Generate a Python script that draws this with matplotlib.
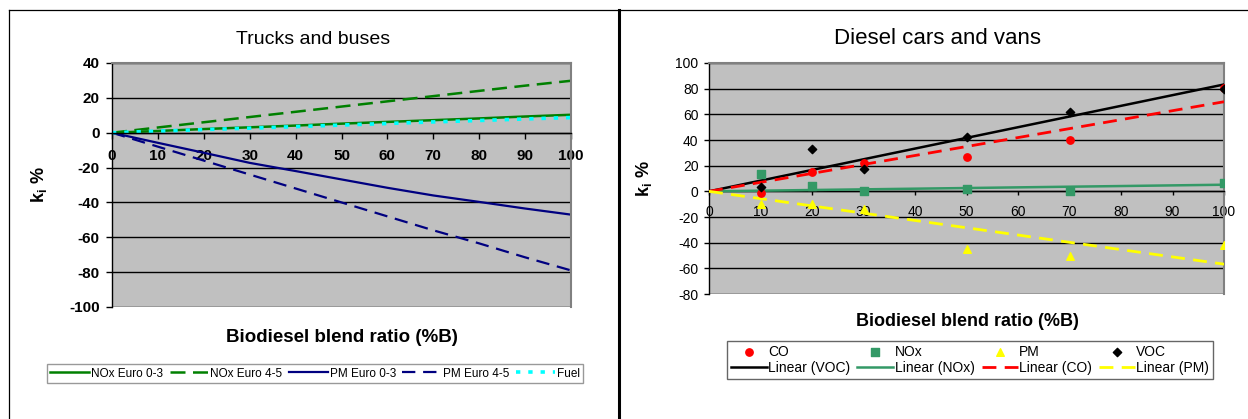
import numpy as np
import matplotlib
matplotlib.use("Agg")
import matplotlib.pyplot as plt
from matplotlib.lines import Line2D

plt.rcParams['font.family'] = ['Liberation Sans', 'DejaVu Sans']
plt.rcParams['mathtext.fontset'] = 'custom'
plt.rcParams['mathtext.rm'] = 'Liberation Sans'
plt.rcParams['mathtext.bf'] = 'Liberation Sans:bold'
plt.rcParams['axes.unicode_minus'] = False

# ---- left chart: trucks and buses ----
blend = [0, 10, 20, 30, 40, 50, 60, 70, 80, 90, 100]
nox_euro03 = [0, 1.0, 2.1, 3.1, 4.1, 5.2, 6.2, 7.2, 8.2, 9.3, 10.3]
nox_euro45 = [0, 3.0, 6.0, 9.0, 12.0, 15.0, 18.0, 21.0, 24.0, 27.0, 29.8]
pm_euro03 = [0, -5.8, -11.5, -17.3, -22.0, -26.8, -31.6, -36.0, -39.7, -43.5, -47.0]
pm_euro45 = [0, -8.0, -16.0, -24.0, -32.0, -40.0, -48.0, -56.0, -63.5, -71.5, -79.0]
fuel = [0, 0.9, 1.8, 2.6, 3.5, 4.4, 5.3, 6.2, 7.0, 7.9, 8.7]
left_labels = ["NOx Euro 0-3", "NOx Euro 4-5", "PM Euro 0-3", "PM Euro 4-5", "Fuel"]

# ---- right chart: diesel cars and vans ----
meas_x = [10, 20, 30, 50, 70, 100]
co = [-1, 15, 22, 26.5, 40, 80.5]
nox = [13.5, 3.8, 0.6, 1.8, 0, 6.5]
pm = [-10, -10, -14, -45, -50, -42]
voc = [3, 33, 17.5, 42, 62, 80]

W, H = 1248, 419
fig = plt.figure(figsize=(W / 100, H / 100), dpi=100)


def px_axes(x0, y0, x1, y1):
    return fig.add_axes([x0 / W, 1 - y1 / H, (x1 - x0) / W, (y1 - y0) / H])


def style_axes(ax, ylim, yticks, bold, tick_size, xpad, ypad, ytick_len, xtick_len):
    ax.set_facecolor('#C0C0C0')
    ax.set_xlim(0, 100)
    ax.set_ylim(*ylim)
    ax.set_yticks(yticks)
    ax.set_xticks(range(0, 101, 10))
    ax.spines['bottom'].set_position(('data', 0))
    ax.spines['bottom'].set_color('black')
    ax.spines['left'].set_color('black')
    ax.spines['top'].set_color('#808080')
    ax.spines['right'].set_color('#808080')
    for s in ax.spines.values():
        s.set_linewidth(1.0)
    ax.spines['top'].set_linewidth(1.5)
    ax.spines['right'].set_linewidth(1.5)
    ax.set_axisbelow(True)
    ax.yaxis.grid(True, color='black', linewidth=1.0)
    weight = 'bold' if bold else 'normal'
    ax.tick_params(axis='y', direction='out', length=ytick_len, width=1,
                   pad=ypad, labelsize=tick_size)
    ax.tick_params(axis='x', direction='out', length=xtick_len, width=1,
                   pad=xpad, labelsize=tick_size)
    for lab in ax.get_xticklabels() + ax.get_yticklabels():
        lab.set_fontweight(weight)


# left chart
ax1 = px_axes(112, 63, 571, 307)
ax1.plot(blend, nox_euro03, color='#008000', lw=1.8, label=left_labels[0])
ax1.plot(blend, nox_euro45, color='#008000', lw=1.8, dashes=(6, 3), label=left_labels[1])
ax1.plot(blend, pm_euro03, color='#000080', lw=1.6, label=left_labels[2])
ax1.plot(blend, pm_euro45, color='#000080', lw=1.6, dashes=(6, 3.5), label=left_labels[3])
ax1.plot(blend, fuel, color='#00FFFF', lw=2.6, dashes=(1.2, 2.2), label=left_labels[4])
style_axes(ax1, (-100, 40), range(-100, 41, 20), True, 11, 8, 5, 4, 4)
ax1.set_ylabel(r'$\mathbf{k_i}$ %', fontsize=13, fontweight='bold')
ax1.yaxis.set_label_coords(-0.137, 0.5)
ax1.legend(loc='center', bbox_to_anchor=(315 / W, 1 - 373.5 / H),
           bbox_transform=fig.transFigure, ncol=5, fontsize=8.5,
           frameon=True, fancybox=False, edgecolor='#808080',
           handlelength=3.3, handletextpad=0.15, columnspacing=0.55,
           borderpad=0.3, borderaxespad=0)
fig.text(313 / W, 1 - 40 / H, "Trucks and buses", ha='center', va='center', fontsize=14)
fig.text(342 / W, 1 - 337 / H, "Biodiesel blend ratio (%B)", ha='center', va='center',
         fontsize=13.5, fontweight='bold')

# right chart
ax2 = px_axes(709, 63, 1224, 294)
mx = np.array(meas_x, dtype=float)
fit_x = np.array([0, 100])


def through_origin(y):
    y = np.array(y, dtype=float)
    return np.dot(mx, y) / np.dot(mx, mx) * fit_x


h_co = ax2.scatter(meas_x, co, color='#FF0000', marker='o', s=28, zorder=4, label='CO')
h_nox = ax2.scatter(meas_x, nox, color='#339966', marker='s', s=30, zorder=4, label='NOx')
h_pm = ax2.scatter(meas_x, pm, color='#FFFF00', marker='^', s=30, zorder=4, label='PM')
h_voc = ax2.scatter(meas_x, voc, color='black', marker='D', s=18, zorder=4, label='VOC')
l_voc, = ax2.plot(fit_x, through_origin(voc), color='black', lw=1.8, zorder=3, label='Linear (VOC)')
l_nox, = ax2.plot(fit_x, through_origin(nox), color='#339966', lw=1.8, zorder=3, label='Linear (NOx)')
l_co, = ax2.plot(fit_x, through_origin(co), color='#FF0000', lw=2.0, dashes=(5, 3), zorder=3,
                 label='Linear (CO)')
l_pm, = ax2.plot(fit_x, through_origin(pm), color='#FFFF00', lw=2.0, dashes=(5, 3), zorder=3,
                 label='Linear (PM)')
style_axes(ax2, (-80, 100), range(-80, 101, 20), False, 10, 7, 4, 3.5, 3)
ax2.set_ylabel(r'$\mathbf{k_i}$ %', fontsize=13, fontweight='bold')
ax2.yaxis.set_label_coords(-0.107, 0.5)
ax2.legend([h_co, l_voc, h_nox, l_nox, h_pm, l_co, h_voc, l_pm],
           ['CO', 'Linear (VOC)', 'NOx', 'Linear (NOx)', 'PM', 'Linear (CO)', 'VOC', 'Linear (PM)'],
           loc='center', bbox_to_anchor=(970 / W, 1 - 360 / H),
           bbox_transform=fig.transFigure, ncol=4, fontsize=10,
           frameon=True, fancybox=False, edgecolor='#404040',
           handlelength=2.6, handletextpad=0.1, columnspacing=0.5,
           borderpad=0.25, labelspacing=0.15, borderaxespad=0, scatterpoints=1)
fig.text(938 / W, 1 - 38 / H, "Diesel cars and vans", ha='center', va='center', fontsize=16)
fig.text(967 / W, 1 - 321 / H, "Biodiesel blend ratio (%B)", ha='center', va='center',
         fontsize=13, fontweight='bold')

# chart area frames
def frame_line(x0, y0, x1, y1, lw):
    fig.add_artist(Line2D([x0 / W, x1 / W], [1 - y0 / H, 1 - y1 / H],
                          transform=fig.transFigure, color='black', lw=lw))


frame_line(9, 10, 619, 10, 0.9)
frame_line(9, 10, 9, 419, 0.9)
frame_line(619, 10, 619, 419, 2.2)
frame_line(619, 10, 1248, 10, 0.9)

fig.savefig("out.png", dpi=100)
